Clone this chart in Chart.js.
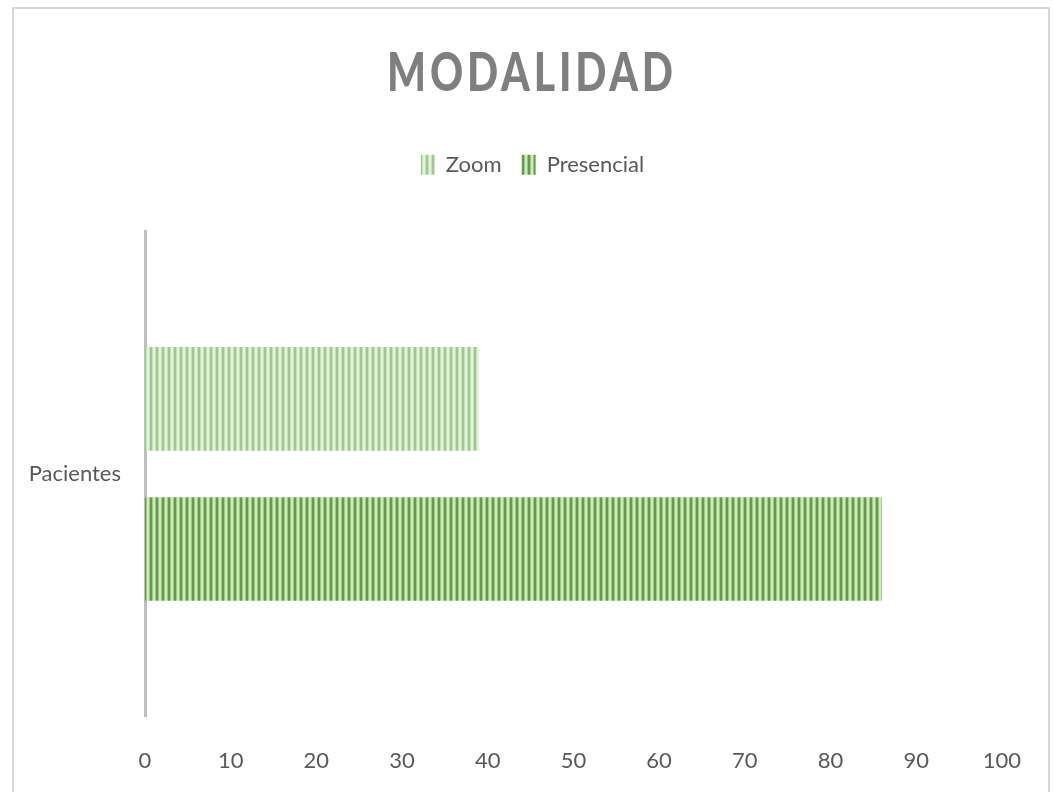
<!DOCTYPE html>
<html>
<head>
<meta charset="utf-8">
<script src="https://cdn.jsdelivr.net/npm/chart.js@4/dist/chart.umd.min.js"></script>
<style>
  body { margin: 0; background: #fff; }
  #wrap { position: relative; width: 1053px; height: 792px; overflow: hidden; }
  #frame { position: absolute; left: 12px; top: 7px; width: 1034px; height: 800px; border: 2px solid #d9d9d9; }
  canvas { position: absolute; left: 0; top: 0; }
</style>
</head>
<body>
<div id="wrap">
  <div id="frame"></div>
  <canvas id="chart" width="1053" height="792"></canvas>
</div>
<script>
const categories = ['Pacientes'];
const zoom = [39];
const presencial = [86];
const xTicks = [0, 10, 20, 30, 40, 50, 60, 70, 80, 90, 100];

// vertical stripes like the excel fill
const stripes = (dark, mid, light) => {
  const c = document.createElement('canvas');
  c.width = 6; c.height = 1;
  const g = c.getContext('2d');
  [dark, dark, mid, light, light, mid].forEach((col, i) => {
    g.fillStyle = col;
    g.fillRect(i, 0, 1, 1);
  });
  return g.createPattern(c, 'repeat');
};

const zoomFill = stripes('#a3c496', '#c6e2ba', '#e2f5d9');
const presFill = stripes('#6a9553', '#9dc886', '#caefb2');

// title spacing / narrow look, and header centring like the original
const tweaks = {
  id: 'tweaks',
  beforeInit(chart) {
    const fit = chart.legend.fit;
    chart.legend.fit = function () {
      fit.bind(chart.legend)();
      this.height += 46;
    };
  },
  afterInit(chart) {
    const tb = chart.titleBlock;
    const draw = tb.draw.bind(tb);
    tb.draw = function () {
      const ctx = chart.ctx;
      const cx = (tb.left + tb.right) / 2;
      ctx.save();
      ctx.letterSpacing = '5px';
      ctx.translate(cx, 0);
      ctx.scale(0.76, 1);
      ctx.translate(-cx, 0);
      draw();
      ctx.restore();
    };
  },
  afterLayout(chart) {
    const tb = chart.titleBlock;
    tb.left = 11; tb.right = 1053;
    const lg = chart.legend;
    const dx = 31;
    lg.left += dx; lg.right += dx;
  }
};

new Chart(document.getElementById('chart'), {
  type: 'bar',
  data: {
    labels: categories,
    datasets: [
      { label: 'Zoom', data: zoom, backgroundColor: zoomFill, borderWidth: 0 },
      { label: 'Presencial', data: presencial, backgroundColor: presFill, borderWidth: 0 }
    ]
  },
  options: {
    indexAxis: 'y',
    responsive: false,
    animation: false,
    categoryPercentage: 0.62,
    barPercentage: 0.69,
    layout: { padding: { top: 10, right: 50, left: 0, bottom: 0 } },
    plugins: {
      title: {
        display: true,
        text: 'MODALIDAD',
        color: '#7f7f7f',
        font: { family: 'Lato', size: 54, weight: 900, lineHeight: 1.2 },
        padding: { top: 31, bottom: 28 }
      },
      legend: {
        position: 'top',
        labels: {
          color: '#595959',
          font: { family: 'Lato', size: 22 },
          boxWidth: 14,
          boxHeight: 20,
          padding: 20
        }
      },
      tooltip: { enabled: false }
    },
    scales: {
      x: {
        min: 0,
        max: 100,
        afterBuildTicks: (s) => { s.ticks = xTicks.map(v => ({ value: v })); },
        grid: { display: false, drawTicks: false },
        border: { display: false },
        ticks: { color: '#595959', font: { family: 'Lato', size: 22 }, padding: 32 },
        afterFit: (s) => { s.height = 76; }
      },
      y: {
        grid: { display: false, drawTicks: false },
        border: { color: '#bfbfbf', width: 3 },
        ticks: { color: '#595959', font: { family: 'Lato', size: 22 }, padding: 24 },
        afterFit: (s) => { s.width = 145; }
      }
    }
  },
  plugins: [tweaks]
});
</script>
</body>
</html>
